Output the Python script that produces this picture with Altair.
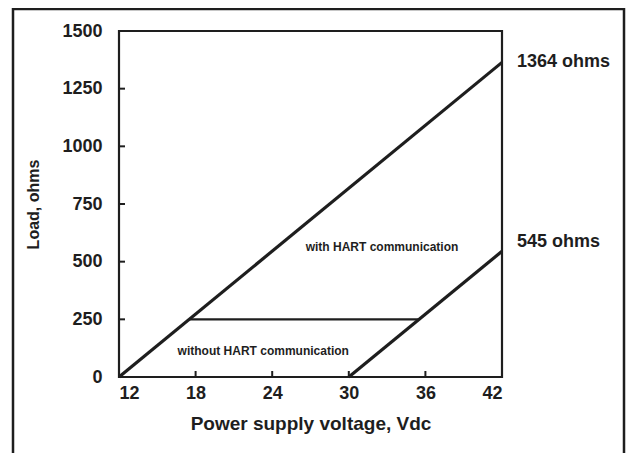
import altair as alt
import pandas as pd

# ---- data ----
hart_x = [12, 42]
hart_y = [0, 1364]
nohart_x = [30, 42]
nohart_y = [0, 545]
limit_x = [17.5, 35.5]
limit_y = [250, 250]

x_ticks = [12, 18, 24, 30, 36, 42]
y_ticks = [0, 250, 500, 750, 1000, 1250, 1500]
x_inner_ticks = [18, 24, 30, 36]
y_inner_ticks = [250, 500, 750, 1000, 1250]

end_labels = ["1364 ohms", "545 ohms"]
end_values = [1364, 545]

region_labels = ["with HART communication", "without HART communication"]
region_x = [32.6, 23.3]
region_y = [563, 114]

INK = "#1e1e1e"
FONT = "Liberation Sans"

lines = pd.DataFrame({
    "v": hart_x + nohart_x + limit_x,
    "load": hart_y + nohart_y + limit_y,
    "series": ["hart"] * 2 + ["nohart"] * 2 + ["limit"] * 2,
    "w": [3.2] * 4 + [2.2] * 2,
})

xs = alt.Scale(domain=[12, 42], nice=False, zero=False)
ys = alt.Scale(domain=[0, 1500], nice=False)

xaxis = alt.Axis(values=x_ticks, format="d", title="Power supply voltage, Vdc", domain=False, ticks=False,
                 tickSize=0, grid=False, labelPadding=7, titlePadding=12,
                 labelFont=FONT, labelFontSize=18, labelFontWeight="bold", labelColor=INK,
                 titleFont=FONT, titleFontSize=19, titleFontWeight="bold", titleColor=INK)
yaxis = alt.Axis(values=y_ticks, format="d", title="Load, ohms", domain=False, ticks=False,
                 tickSize=0, grid=False, labelPadding=17, titlePadding=20,
                 labelFont=FONT, labelFontSize=18, labelFontWeight="bold", labelColor=INK,
                 titleFont=FONT, titleFontSize=16, titleFontWeight="bold", titleColor=INK)

base_lines = alt.Chart(lines).mark_line(color=INK, strokeCap="butt").encode(
    x=alt.X("v:Q", scale=xs, axis=xaxis),
    y=alt.Y("load:Q", scale=ys, axis=yaxis),
    detail="series:N",
    strokeWidth=alt.StrokeWidth("w:Q", scale=None, legend=None),
)

xt = alt.Chart(pd.DataFrame({"v": x_inner_ticks})).mark_rule(color=INK, strokeWidth=2).encode(
    x=alt.X("v:Q", scale=xs), y=alt.value(346), y2=alt.value(340)
)
yt = alt.Chart(pd.DataFrame({"load": y_inner_ticks})).mark_rule(color=INK, strokeWidth=2).encode(
    y=alt.Y("load:Q", scale=ys), x=alt.value(0), x2=alt.value(6)
)

end_df = pd.DataFrame({"label": end_labels, "load": end_values, "v": [42, 42]})
end_text0 = alt.Chart(end_df.iloc[[0]]).mark_text(align="left", baseline="middle", dx=15,
                                        font=FONT, fontSize=18, fontWeight="bold", color=INK).encode(
    x=alt.X("v:Q", scale=xs), y=alt.Y("load:Q", scale=ys), text="label:N"
)
end_text1 = alt.Chart(end_df.iloc[[1]]).mark_text(align="left", baseline="middle", dx=15, dy=-9,
                                        font=FONT, fontSize=18, fontWeight="bold", color=INK).encode(
    x=alt.X("v:Q", scale=xs), y=alt.Y("load:Q", scale=ys), text="label:N"
)

region_df = pd.DataFrame({"label": region_labels, "v": region_x, "load": region_y})
region_text = alt.Chart(region_df).mark_text(align="center", baseline="middle", font=FONT,
                                             fontSize=12, fontWeight="bold", color=INK).encode(
    x=alt.X("v:Q", scale=xs), y=alt.Y("load:Q", scale=ys), text="label:N"
)

frame = alt.Chart(pd.DataFrame({"a": [0]})).mark_rect(fill=None, stroke=INK, strokeWidth=2.5).encode(
    x=alt.value(-106), x2=alt.value(505), y=alt.value(-22), y2=alt.value(440)
)

chart = alt.layer(frame, base_lines, xt, yt, end_text0, end_text1, region_text).properties(
    width=383, height=346,
    autosize=alt.AutoSizeParams(type="none"),
    padding={"left": 111, "top": 23, "right": 124, "bottom": 76},
    background="white",
).configure_view(stroke=INK, strokeWidth=2.2)

chart.save("out.html", embed_options={"renderer": "svg", "actions": False})
